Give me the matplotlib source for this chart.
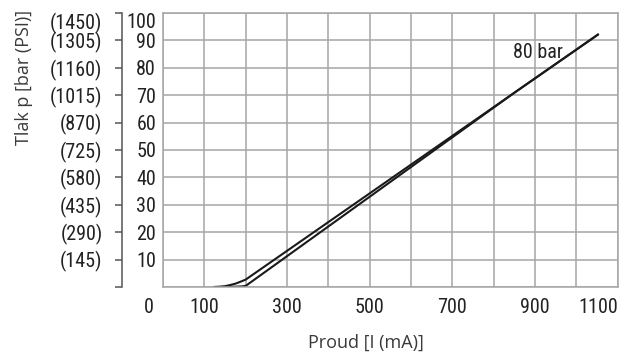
import numpy as np
import matplotlib.pyplot as plt
from matplotlib.transforms import ScaledTranslation

# current (mA) vs pressure (bar)
upper_i = [125, 137, 150, 162, 175, 187, 200, 850, 1052]
upper_p = [0.0, 0.1, 0.3, 0.7, 1.2, 1.9, 2.7, 70.9, 92.1]
lower_i = [125, 150, 175, 190, 200, 850, 1052]
lower_p = [0.0, 0.0, 0.1, 0.2, 0.4, 70.9, 92.1]

x_grid = list(range(0, 1101, 100))
x_labeled = [0, 100, 300, 500, 700, 900, 1100]
bar_ticks = list(range(0, 101, 10))
bar_labels = ['', '10', '20', '30', '40', '50', '60', '70', '80', '90', '100']
psi_labels = ['', '(145)', '(290)', '(435)', '(580)', '(725)', '(870)',
              '(1015)', '(1160)', '(1305)', '(1450)']

tick_font = ['Roboto Condensed', 'DejaVu Sans']
label_font = ['Open Sans', 'DejaVu Sans']
txt = '#222222'
grid_c = '#a6a6a6'
fs = 14.5

fig = plt.figure(figsize=(6.27, 3.54), dpi=100)
ax = fig.add_axes([0.26, 0.1893, 0.7252, 0.774])

ax.plot(upper_i, upper_p, color='#1a1a1a', lw=1.5)
ax.plot(lower_i, lower_p, color='#1a1a1a', lw=1.5)
ax.text(847, 83.5, '80 bar', fontsize=fs, family=tick_font, color=txt)

ax.set_xlim(0, 1100)
ax.set_ylim(0, 100)
ax.set_xticks(x_labeled)
ax.set_xticklabels([str(v) for v in x_labeled], fontsize=fs, family=tick_font, color=txt)
ax.set_xticks(x_grid, minor=True)
ax.set_yticks(bar_ticks)
ax.set_yticklabels(bar_labels, fontsize=fs, family=tick_font, color=txt)
ax.grid(True, which='both', color=grid_c, lw=1.1)
ax.tick_params(which='both', length=0)
ax.tick_params(axis='x', pad=8)
ax.tick_params(axis='y', pad=5)
for s in ax.spines.values():
    s.set_color(grid_c)
    s.set_linewidth(1.1)

# shift the end labels like in the original
xl = ax.get_xticklabels()
xl[0].set_transform(xl[0].get_transform() + ScaledTranslation(-0.14, 0, fig.dpi_scale_trans))
xl[-1].set_horizontalalignment('right')
yl = ax.get_yticklabels()
yl[-1].set_verticalalignment('top')

# PSI axis on the left
sec = ax.secondary_yaxis(-0.0902)
sec.set_yticks(bar_ticks)
sec.set_yticklabels(psi_labels, fontsize=fs, family=tick_font, color=txt)
sec.tick_params(length=5, width=1.1, color='#555555', pad=9)
sec.spines['left'].set_color('#555555')
sec.spines['left'].set_linewidth(1.1)
sec.get_yticklabels()[-1].set_verticalalignment('top')

fig.text(24 / 627, 1 - 77 / 354, 'Tlak p [bar (PSI)]', rotation=90, fontsize=13,
         family=label_font, color='#3a3a3a', ha='center', va='center')
fig.text(366 / 627, 1 - 343 / 354, 'Proud [I (mA)]', fontsize=13,
         family=label_font, color='#3a3a3a', ha='center', va='center')

fig.savefig('out.png', dpi=100)
